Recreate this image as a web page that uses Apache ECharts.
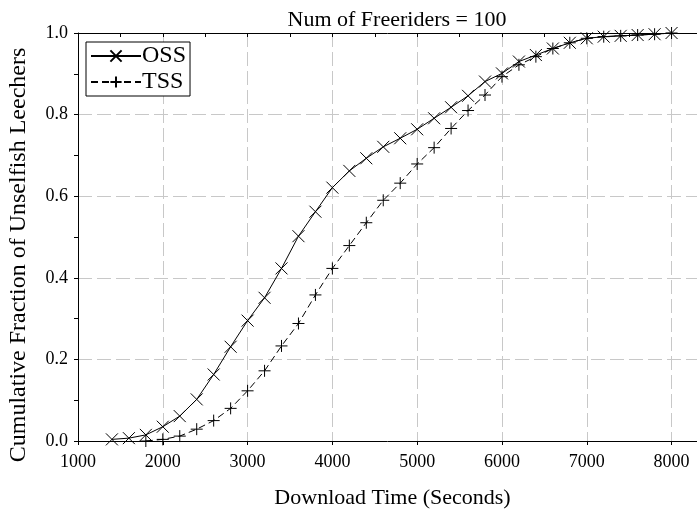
<!DOCTYPE html>
<html>
<head>
<meta charset="utf-8">
<script src="https://cdn.jsdelivr.net/npm/echarts@6/dist/echarts.min.js"></script>
<style>html,body{margin:0;padding:0;background:#fff}#c{width:697px;height:511px}</style>
</head>
<body>
<div id="c"></div>
<script>
const ossX = [1400,1600,1800,2000,2200,2400,2600,2800,3000,3200,3400,3600,3800,4000,4200,4400,4600,4800,5000,5200,5400,5600,5800,6000,6200,6400,6600,6800,7000,7200,7400,7600,7800,8000];
const ossY = [0.004,0.007,0.015,0.035,0.061,0.102,0.163,0.231,0.295,0.351,0.423,0.502,0.562,0.621,0.662,0.693,0.721,0.742,0.764,0.791,0.818,0.846,0.881,0.901,0.93,0.946,0.962,0.976,0.987,0.991,0.993,0.995,0.997,1.0];
const tssX = [1800,2000,2200,2400,2600,2800,3000,3200,3400,3600,3800,4000,4200,4400,4600,4800,5000,5200,5400,5600,5800,6000,6200,6400,6600,6800,7000,7200,7400,7600,7800,8000];
const tssY = [0.0,0.004,0.012,0.029,0.05,0.08,0.123,0.172,0.233,0.288,0.358,0.423,0.479,0.535,0.59,0.632,0.679,0.719,0.766,0.81,0.848,0.893,0.922,0.942,0.962,0.976,0.987,0.991,0.993,0.995,0.997,1.0];
const titleText = 'Num of Freeriders = 100';
const xName = 'Download Time (Seconds)';
const yName = 'Cumulative Fraction of Unselfish Leechers';

const F = 'Liberation Serif';
const crossPath = 'path://M0,0L10,10M10,0L0,10';
const plusPath = 'path://M5,0L5,10M0,5L10,5';
const chart = echarts.init(document.getElementById('c'), null, {renderer:'canvas'});
const gridLine = {show:true, lineStyle:{color:'#c8c8c8', width:1, type:[14,5]}};
chart.setOption({
  animation:false,
  backgroundColor:'#fff',
  title:{text:titleText, left:392, top:4, textAlign:'center',
    textStyle:{fontFamily:F, fontSize:22, fontWeight:'normal', color:'#000'}},
  legend:{
    left:86, top:42, orient:'vertical', itemGap:2,
    itemWidth:50, itemHeight:14,
    borderColor:'#000', borderWidth:1, padding:[2,4,2,4],
    backgroundColor:'#fff',
    textStyle:{fontFamily:F, fontSize:24, color:'#000', padding:[0,0,0,-4]},
    data:['OSS','TSS']
  },
  grid:{left:78, right:0, top:33, bottom:70, containLabel:false, outerBoundsMode:'none'},
  xAxis:[{
    type:'value', min:1000, max:8300, interval:1000,
    name:xName, nameLocation:'middle', nameGap:46,
    nameTextStyle:{fontFamily:F, fontSize:22, color:'#000', padding:[0,0,0,10]},
    axisLine:{show:true, onZero:false, lineStyle:{color:'#000', width:1}},
    axisTick:{show:true, inside:false, length:4, lineStyle:{color:'#000'}},
    minorTick:{show:false},
    axisLabel:{fontFamily:F, fontSize:18, color:'#000', margin:12, showMaxLabel:false,
      formatter:v => (v % 1000 === 0 ? String(v) : '')},
    splitLine:Object.assign({showMinLine:false, showMaxLine:false}, gridLine)
  },{
    type:'value', position:'top', min:1000, max:8300, interval:1000,
    axisLine:{show:true, onZero:false, lineStyle:{color:'#000', width:1}},
    axisTick:{show:true, inside:true, length:4, lineStyle:{color:'#000'}},
    minorTick:{show:true, splitNumber:2, length:4, lineStyle:{color:'#000'}},
    axisLabel:{show:false}, splitLine:{show:false}
  }],
  yAxis:{
    type:'value', min:0, max:1, interval:0.2,
    name:yName, nameLocation:'middle', nameGap:47,
    nameTextStyle:{fontFamily:F, fontSize:24, color:'#000', padding:[0,36,0,0]},
    axisLine:{show:true, onZero:false, lineStyle:{color:'#000', width:1}},
    axisTick:{show:true, inside:false, length:4, lineStyle:{color:'#000'}},
    minorTick:{show:true, splitNumber:2, length:4, lineStyle:{color:'#000'}},
    axisLabel:{fontFamily:F, fontSize:18, color:'#000', margin:10,
      formatter:v => v.toFixed(1)},
    splitLine:Object.assign({showMinLine:false, showMaxLine:false}, gridLine)
  },
  series:[{
    name:'OSS', type:'line', data:ossX.map((x,i)=>[x,ossY[i]]),
    symbol:crossPath, symbolSize:12, showSymbol:true,
    lineStyle:{color:'#000', width:1, type:'solid'},
    itemStyle:{color:'rgba(0,0,0,0)', borderColor:'#000', borderWidth:1},
    emphasis:{disabled:true}, z:3
  },{
    name:'TSS', type:'line', data:tssX.map((x,i)=>[x,tssY[i]]),
    symbol:plusPath, symbolSize:12, showSymbol:true,
    lineStyle:{color:'#000', width:1, type:[7,4]},
    itemStyle:{color:'rgba(0,0,0,0)', borderColor:'#000', borderWidth:1},
    emphasis:{disabled:true}, z:3
  }]
});
</script>
</body>
</html>
